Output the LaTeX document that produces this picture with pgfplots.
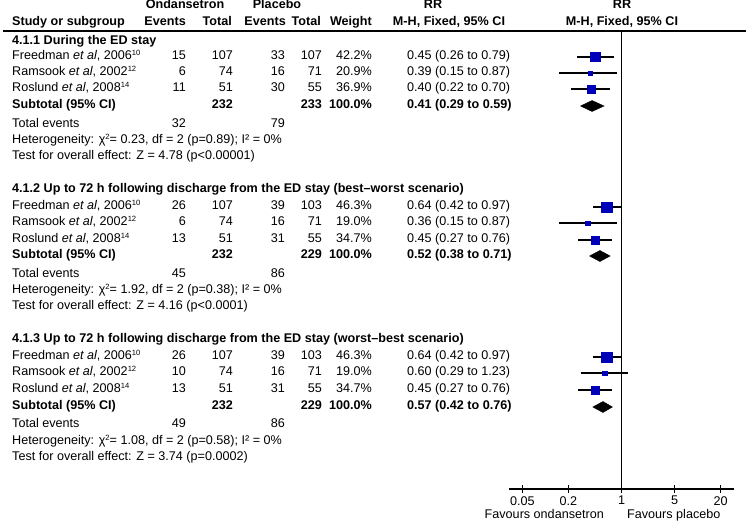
\documentclass[border=0pt]{standalone}
\usepackage{pgfplots}
\pgfplotsset{compat=1.18}
\usepackage{fontspec}
\setmainfont{Liberation Sans}
\definecolor{sqblue}{RGB}{0,0,185}
\newcommand{\fs}{\fontsize{12.6bp}{14bp}\selectfont}
\newcommand{\sups}[1]{\raisebox{0.62ex}{\fontsize{7.6bp}{8bp}\selectfont #1}}
\newcommand{\TL}[3]{\node[anchor=mid west,inner sep=0pt] at (#1bp,-#2bp) {#3};}
\newcommand{\TR}[3]{\node[anchor=mid east,inner sep=0pt] at (#1bp,-#2bp) {#3};}
\newcommand{\TC}[3]{\node[anchor=mid,inner sep=0pt] at (#1bp,-#2bp) {#3};}
% study row: y, name, e1, t1, e2, t2, weight, ci
\newcommand{\study}[8]{%
  \TL{12}{#1}{#2}\TR{186}{#1}{#3}\TR{233}{#1}{#4}\TR{285}{#1}{#5}%
  \TR{322}{#1}{#6}\TR{372}{#1}{#7\%}\TL{407}{#1}{#8}}
\newcommand{\subtot}[4]{%
  \TL{12}{#1}{\bfseries Subtotal (95\% CI)}\TR{233}{#1}{\bfseries #2}%
  \TR{322}{#1}{\bfseries #3}\TR{372}{#1}{\bfseries 100.0\%}\TL{407}{#1}{\bfseries #4}}
\begin{document}
\begin{tikzpicture}[font=\fs]
% ---------- header ----------
\TC{185}{6}{\bfseries Ondansetron}
\TC{277}{6}{\bfseries Placebo}
\TC{433}{6}{\bfseries RR}
\TC{622}{6}{\bfseries RR}
\TL{12}{23}{\bfseries Study or subgroup}
\TR{186}{23}{\bfseries Events}
\TR{232}{23}{\bfseries Total}
\TR{286}{23}{\bfseries Events}
\TR{321}{23}{\bfseries Total}
\TR{372}{23}{\bfseries Weight}
\TC{449}{23}{\bfseries M-H, Fixed, 95\% CI}
\TC{622}{23}{\bfseries M-H, Fixed, 95\% CI}
\draw[line width=1.2bp] (3bp,-31bp) -- (746bp,-31bp);
% ---------- section 1 ----------
\TL{12}{42}{\bfseries 4.1.1 During the ED stay}
\study{57}{Freedman \textit{et al}, 2006\sups{10}}{15}{107}{33}{107}{42.2}{0.45 (0.26 to 0.79)}
\study{73}{Ramsook \textit{et al}, 2002\sups{12}}{6}{74}{16}{71}{20.9}{0.39 (0.15 to 0.87)}
\study{89}{Roslund \textit{et al}, 2008\sups{14}}{11}{51}{30}{55}{36.9}{0.40 (0.22 to 0.70)}
\subtot{106}{232}{233}{0.41 (0.29 to 0.59)}
\TL{12}{125}{Total events}\TR{186}{125}{32}\TR{285}{125}{79}
\TL{12}{141}{Heterogeneity: χ\sups{2}= 0.23, df = 2 (p=0.89); I² = 0\%}
\TL{12}{157}{Test for overall effect: Z = 4.78 (p<0.00001)}
% ---------- section 2 ----------
\TL{12}{190}{\bfseries 4.1.2 Up to 72 h following discharge from the ED stay (best–worst scenario)}
\study{207}{Freedman \textit{et al}, 2006\sups{10}}{26}{107}{39}{103}{46.3}{0.64 (0.42 to 0.97)}
\study{223}{Ramsook \textit{et al}, 2002\sups{12}}{6}{74}{16}{71}{19.0}{0.36 (0.15 to 0.87)}
\study{240}{Roslund \textit{et al}, 2008\sups{14}}{13}{51}{31}{55}{34.7}{0.45 (0.27 to 0.76)}
\subtot{256}{232}{229}{0.52 (0.38 to 0.71)}
\TL{12}{275}{Total events}\TR{186}{275}{45}\TR{285}{275}{86}
\TL{12}{291}{Heterogeneity: χ\sups{2}= 1.92, df = 2 (p=0.38); I² = 0\%}
\TL{12}{307}{Test for overall effect: Z = 4.16 (p<0.0001)}
% ---------- section 3 ----------
\TL{12}{340}{\bfseries 4.1.3 Up to 72 h following discharge from the ED stay (worst–best scenario)}
\study{357}{Freedman \textit{et al}, 2006\sups{10}}{26}{107}{39}{103}{46.3}{0.64 (0.42 to 0.97)}
\study{373}{Ramsook \textit{et al}, 2002\sups{12}}{10}{74}{16}{71}{19.0}{0.60 (0.29 to 1.23)}
\study{390}{Roslund \textit{et al}, 2008\sups{14}}{13}{51}{31}{55}{34.7}{0.45 (0.27 to 0.76)}
\subtot{407}{232}{229}{0.57 (0.42 to 0.76)}
\TL{12}{425}{Total events}\TR{186}{425}{49}\TR{285}{425}{86}
\TL{12}{442}{Heterogeneity: χ\sups{2}= 1.08, df = 2 (p=0.58); I² = 0\%}
\TL{12}{458}{Test for overall effect: Z = 3.74 (p=0.0002)}
% ---------- forest plot ----------
\begin{axis}[
  at={(509bp,-489bp)}, anchor=south west,
  scale only axis, width=225bp, height=458bp,
  xmode=log, xmin=0.0333, xmax=30,
  ymin=-489, ymax=-31,
  axis x line=bottom, axis y line=none,
  x axis line style={-, line width=1.1bp},
  xtick={0.05,0.2,1,5,20}, xticklabels={0.05,0.2,1,5,20},
  xminorticks=false,
  tick align=center, major tick length=8bp,
  xtick style={line width=1.1bp, black},
  xticklabel style={font=\fs, inner sep=0pt, yshift=-3bp},
  clip=false,
]
% line of no effect
\addplot[black, line width=1.3bp] coordinates {(1,-31) (1,-489)};
% --- section 1 ---
\addplot[black, line width=1.2bp] coordinates {(0.26,-57) (0.79,-57)};
\addplot[only marks, mark=square*, mark size=4.64, sqblue] coordinates {(0.45,-57)};
\addplot[black, line width=1.2bp] coordinates {(0.15,-73) (0.87,-73)};
\addplot[only marks, mark=square*, mark size=2.30, sqblue] coordinates {(0.39,-73)};
\addplot[black, line width=1.2bp] coordinates {(0.22,-89) (0.70,-89)};
\addplot[only marks, mark=square*, mark size=4.06, sqblue] coordinates {(0.40,-89)};
\addplot[black, fill=black] coordinates {(0.29,-106) (0.41,-100.5) (0.59,-106) (0.41,-111.5)} -- cycle;
% --- section 2 ---
\addplot[black, line width=1.2bp] coordinates {(0.42,-207) (0.97,-207)};
\addplot[only marks, mark=square*, mark size=5.09, sqblue] coordinates {(0.64,-207)};
\addplot[black, line width=1.2bp] coordinates {(0.15,-223) (0.87,-223)};
\addplot[only marks, mark=square*, mark size=2.09, sqblue] coordinates {(0.36,-223)};
\addplot[black, line width=1.2bp] coordinates {(0.27,-240) (0.76,-240)};
\addplot[only marks, mark=square*, mark size=3.82, sqblue] coordinates {(0.45,-240)};
\addplot[black, fill=black] coordinates {(0.38,-256) (0.52,-250.5) (0.71,-256) (0.52,-261.5)} -- cycle;
% --- section 3 ---
\addplot[black, line width=1.2bp] coordinates {(0.42,-357) (0.97,-357)};
\addplot[only marks, mark=square*, mark size=5.09, sqblue] coordinates {(0.64,-357)};
\addplot[black, line width=1.2bp] coordinates {(0.29,-373) (1.23,-373)};
\addplot[only marks, mark=square*, mark size=2.09, sqblue] coordinates {(0.60,-373)};
\addplot[black, line width=1.2bp] coordinates {(0.27,-390) (0.76,-390)};
\addplot[only marks, mark=square*, mark size=3.82, sqblue] coordinates {(0.45,-390)};
\addplot[black, fill=black] coordinates {(0.42,-407) (0.57,-401.5) (0.76,-407) (0.57,-412.5)} -- cycle;
\end{axis}
\TR{604}{516}{Favours ondansetron}
\TL{627}{516}{Favours placebo}
\pgfresetboundingbox
\path (0,0) rectangle (747bp,-522bp);
\end{tikzpicture}
\end{document}
